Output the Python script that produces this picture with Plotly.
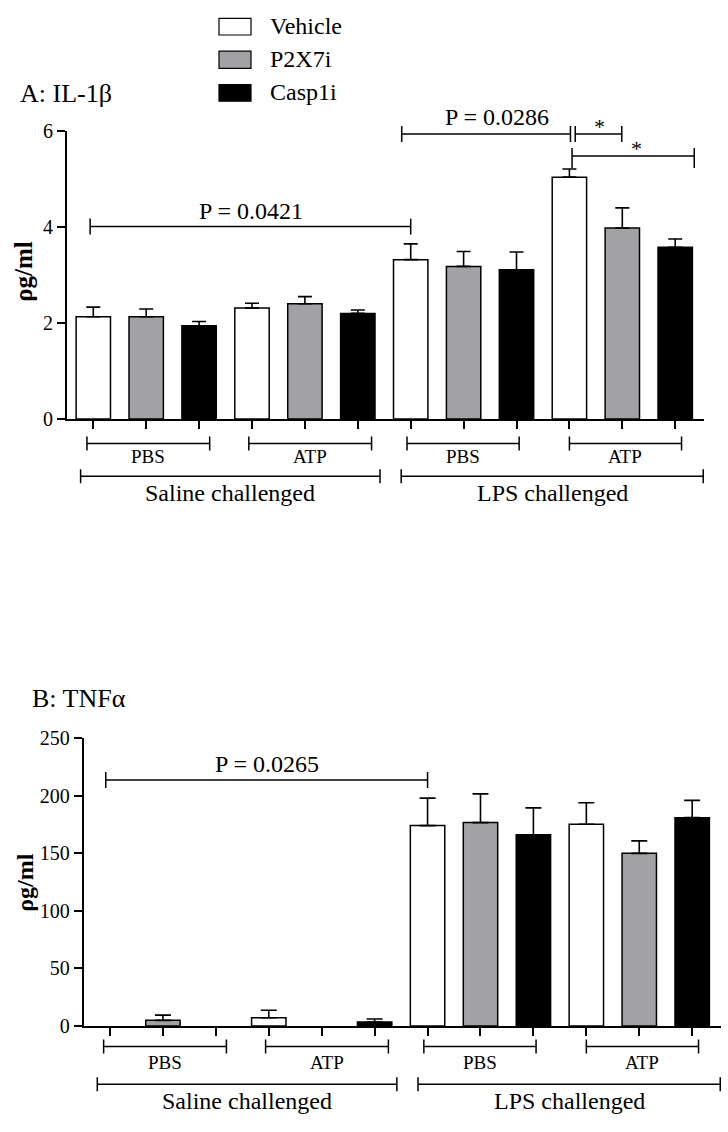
import plotly.graph_objects as go

W, H = 728, 1132
FONT = "Liberation Serif, Times New Roman, serif"

# ---------------- data ----------------
categories = [
    "Saline PBS Vehicle", "Saline PBS P2X7i", "Saline PBS Casp1i",
    "Saline ATP Vehicle", "Saline ATP P2X7i", "Saline ATP Casp1i",
    "LPS PBS Vehicle", "LPS PBS P2X7i", "LPS PBS Casp1i",
    "LPS ATP Vehicle", "LPS ATP P2X7i", "LPS ATP Casp1i",
]
treatments = ["Vehicle", "P2X7i", "Casp1i"]
groups = ["Saline PBS", "Saline ATP", "LPS PBS", "LPS ATP"]
sub_labels = ["PBS", "ATP", "PBS", "ATP"]
main_labels = ["Saline challenged", "LPS challenged"]

# Panel A: IL-1beta (pg/ml), mean and SEM per group
il1b_vehicle = [2.13, 2.31, 3.32, 5.04]
il1b_vehicle_sem = [0.20, 0.10, 0.33, 0.17]
il1b_p2x7i = [2.13, 2.40, 3.18, 3.98]
il1b_p2x7i_sem = [0.16, 0.15, 0.31, 0.42]
il1b_casp1i = [1.94, 2.20, 3.11, 3.58]
il1b_casp1i_sem = [0.09, 0.07, 0.37, 0.17]

# Panel B: TNF-alpha (pg/ml), mean and SEM per group
tnf_vehicle = [0, 7.1, 174.1, 175.3]
tnf_vehicle_sem = [0, 6.5, 23.9, 18.7]
tnf_p2x7i = [4.8, 0, 176.7, 150.0]
tnf_p2x7i_sem = [4.6, 0, 25.0, 10.8]
tnf_casp1i = [0, 3.4, 166.2, 181.0]
tnf_casp1i_sem = [0, 2.6, 23.3, 15.0]

yticks_a = [0, 2, 4, 6]
yticks_b = [0, 50, 100, 150, 200, 250]

# ---------------- styling ----------------
fills = {"Vehicle": "white", "P2X7i": "#a2a2a6", "Casp1i": "black"}


def py(px):
    return 1 - px / H


def px_x(px):
    return px / W


DOM_YA = [py(416), py(122.5)]
DOM_YB = [py(1035), py(741.7)]


def ya_paper(v):
    return DOM_YA[0] + v / 6 * (DOM_YA[1] - DOM_YA[0])


XR = [-0.5, 11.55]
fig = go.Figure()

panels = [
    ("x", "y", [(il1b_vehicle, il1b_vehicle_sem), (il1b_p2x7i, il1b_p2x7i_sem),
                (il1b_casp1i, il1b_casp1i_sem)], 7),
    ("x2", "y2", [(tnf_vehicle, tnf_vehicle_sem), (tnf_p2x7i, tnf_p2x7i_sem),
                  (tnf_casp1i, tnf_casp1i_sem)], 8),
]
for xa, ya, series, capw in panels:
    for name, (vals, sems) in zip(treatments, series):
        xs = [categories.index(f"{g} {name}") for g in groups]
        yv = [v if v > 0 else None for v in vals]
        fig.add_trace(go.Bar(
            x=xs, y=yv, name=name, width=0.65, xaxis=xa, yaxis=ya,
            marker=dict(color=fills[name], line=dict(color="black", width=1.5)),
            error_y=dict(type="data", array=sems, arrayminus=[0] * len(sems),
                         symmetric=False, color="black", thickness=1.6, width=capw),
            cliponaxis=False, showlegend=False, hoverinfo="skip",
        ))

axis_common = dict(showline=True, linecolor="black", linewidth=1.6, showgrid=False,
                   zeroline=False, ticks="outside", tickcolor="black", tickwidth=1.5)

fig.update_layout(
    width=W, height=H, margin=dict(l=0, r=0, t=0, b=0),
    paper_bgcolor="white", plot_bgcolor="white", barmode="overlay",
    font=dict(family=FONT, color="black"),
    showlegend=False,
    xaxis=dict(domain=[0.09183, 0.96745], range=XR, tickvals=list(range(12)),
               showticklabels=False, ticklen=8, anchor="y", **axis_common),
    yaxis=dict(domain=DOM_YA, range=[0, 6], tickvals=yticks_a,
               ticklen=8, tickfont=dict(size=20, family=FONT), anchor="x", **axis_common),
    xaxis2=dict(domain=[0.11474, 0.99080], range=XR, tickvals=list(range(12)),
                showticklabels=False, ticklen=8, anchor="y2", **axis_common),
    yaxis2=dict(domain=DOM_YB, range=[0, 250], tickvals=yticks_b,
                ticklen=8, tickfont=dict(size=20, family=FONT), anchor="x2", **axis_common),
)

shapes = []
annotations = []
LW = 1.5


def hline(xref, yref, x0, x1, y):
    shapes.append(dict(type="line", xref=xref, yref=yref, x0=x0, x1=x1, y0=y, y1=y,
                       line=dict(color="black", width=LW)))


def vtick(xref, yref, x, y, up=7, down=7):
    shapes.append(dict(type="line", xref=xref, yref=yref, x0=x, x1=x,
                       ysizemode="pixel", yanchor=y, y0=-down, y1=up,
                       line=dict(color="black", width=LW)))


def bracket(xref, yref, x0, x1, y, up=7, down=7):
    hline(xref, yref, x0, x1, y)
    vtick(xref, yref, x0, y, up, down)
    vtick(xref, yref, x1, y, up, down)


def text(xref, yref, x, y, s, size, xanchor="center", **kw):
    annotations.append(dict(xref=xref, yref=yref, x=x, y=y, text=s, showarrow=False,
                            xanchor=xanchor, yanchor="middle",
                            font=dict(size=size, family=FONT, color="black"), **kw))


# group brackets under the axes
sub_spans = [(-0.12, 2.2), (2.94, 5.26), (5.93, 8.05), (9.0, 11.12)]
main_spans = [(-0.24, 5.42), (5.82, 11.53)]
for xref, sub_y, sub_ty, main_y, main_ty in [("x", 441, 454, 474.5, 492),
                                              ("x2", 1056, 1072, 1094.5, 1112)]:
    for (a, b), lab in zip(sub_spans, sub_labels):
        bracket(xref, "paper", a, b, py(sub_y))
        text(xref, "paper", (a + b) / 2, py(sub_ty), lab, 19)
    for (a, b), lab in zip(main_spans, main_labels):
        bracket(xref, "paper", a, b, py(main_y))
        text(xref, "paper", (a + b) / 2, py(main_ty), lab, 24)

# significance annotations, panel A
bracket("x", "paper", -0.06, 6.0, ya_paper(4.01), 8, 8)
text("x", "paper", 2.99, ya_paper(4.33), "P = 0.0421", 24)
bracket("x", "paper", 5.83, 9.02, ya_paper(5.94), 8, 8)
text("x", "paper", 7.63, ya_paper(6.3), "P = 0.0286", 24)
bracket("x", "paper", 9.11, 9.99, ya_paper(5.94), 8, 8)
text("x", "paper", 9.56, ya_paper(6.1), "*", 22)
bracket("x", "paper", 9.05, 11.36, ya_paper(5.48), 8, 12)
text("x", "paper", 10.27, ya_paper(5.63), "*", 22)

# significance annotation, panel B
bracket("x2", "y2", -0.08, 6.0, 213.7, 8, 8)
text("x2", "y2", 2.97, 227.5, "P = 0.0265", 24)

# panel titles and axis titles
text("paper", "paper", px_x(18), py(84), "A: IL-1β", 26, xanchor="left")
text("paper", "paper", px_x(30), py(701), "B: TNFα", 26, xanchor="left")
text("paper", "paper", px_x(24), py(266), "<b>ρg/ml</b>", 25, textangle=-90)
text("paper", "paper", px_x(25), py(889), "<b>ρg/ml</b>", 24, textangle=-90)

# legend
legend_rows = [(7.5, 24.5), (41, 58.5), (75, 92)]
for name, (t, b) in zip(treatments, legend_rows):
    shapes.append(dict(type="rect", xref="paper", yref="paper",
                       x0=px_x(219), x1=px_x(251), y0=py(b), y1=py(t),
                       fillcolor=fills[name], line=dict(color="black", width=1.2)))
    text("paper", "paper", px_x(268), py((t + b) / 2 - 0.5), name, 24, xanchor="left")

fig.update_layout(shapes=shapes, annotations=annotations)
fig.write_html("out.html", config={"displayModeBar": False},
               post_script="document.body.style.margin='0';")
